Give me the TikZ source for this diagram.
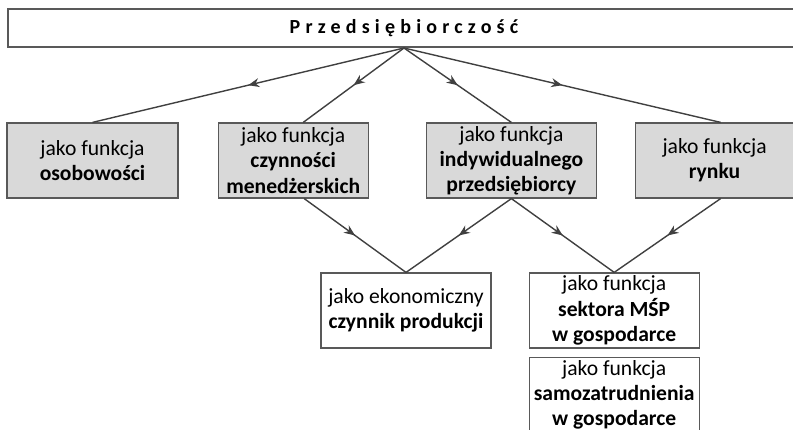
\documentclass[tikz,border=0pt]{standalone}
\usepackage{fontspec}
\setmainfont{Carlito}
\newfontfamily\spacedfont[LetterSpace=26]{Carlito}
\usetikzlibrary{arrows.meta,positioning,decorations.markings}

\begin{document}
\begin{tikzpicture}[
    x=0.5pt, y=-0.5pt,
    font=\fontsize{10.8}{12.6}\selectfont,
    title/.style={rectangle, draw=black!65, line width=1pt, minimum width=396pt, minimum height=19pt, inner sep=0pt, font=\fontsize{10}{11}\selectfont\spacedfont\bfseries},
    func/.style={rectangle, draw=black!65, line width=0.6pt, fill=black!15, minimum height=37.5pt, inner sep=0pt, align=center},
    plain/.style={rectangle, draw=black!65, line width=0.6pt, fill=white, minimum width=85pt, minimum height=37.5pt, inner sep=0pt, align=center},
    link/.style={draw=black!75, line width=0.7pt, postaction={decorate},
        decoration={markings, mark=at position 0.5 with {\arrow{Stealth[length=5.5pt,width=4.5pt]}}}}
]
    \useasboundingbox (0,0) rectangle (793,429);
    \clip (0,0) rectangle (793,429);

    % Row 0: Title
    \node[title] (top) at (404,28) {Przedsiębiorczość};

    % Row 1: Functions (grey)
    \node[func, minimum width=85.5pt] (b1) at (92.5,160.5) {jako funkcja\\\textbf{osobowości}};
    \node[func, minimum width=75pt, right=19.5pt of b1] (b2) {jako funkcja\\\textbf{czynności}\\\textbf{menedżerskich}};
    \node[func, minimum width=85pt, right=28.5pt of b2] (b3) {jako funkcja\\\textbf{indywidualnego}\\\textbf{przedsiębiorcy}};
    \node[func, minimum width=79pt, right=19pt of b3] (b4) {jako funkcja\\\textbf{rynku}};

    % Row 2: Results
    \node[plain] (e1) at (406,310.5) {jako ekonomiczny\\\textbf{czynnik produkcji}};
    \node[plain, right=18.5pt of e1] (e2) {jako funkcja\\\textbf{sektora MŚP}\\\textbf{w gospodarce}};
    \node[plain, below=4pt of e2] (e3) {jako funkcja\\\textbf{samozatrudnienia}\\\textbf{w gospodarce}};

    % Arrows
    \draw[link] (top.south) -- (b1.north);
    \draw[link] (top.south) -- ([xshift=5pt]b2.north);
    \draw[link] (top.south) -- (b3.north);
    \draw[link] (top.south) -- ([xshift=3pt]b4.north);

    \draw[link] ([xshift=5.5pt]b2.south) -- (e1.north);
    \draw[link] (b3.south) -- (e1.north);
    \draw[link] (b3.south) -- (e2.north);
    \draw[link] ([xshift=3pt]b4.south) -- (e2.north);
\end{tikzpicture}
\end{document}
